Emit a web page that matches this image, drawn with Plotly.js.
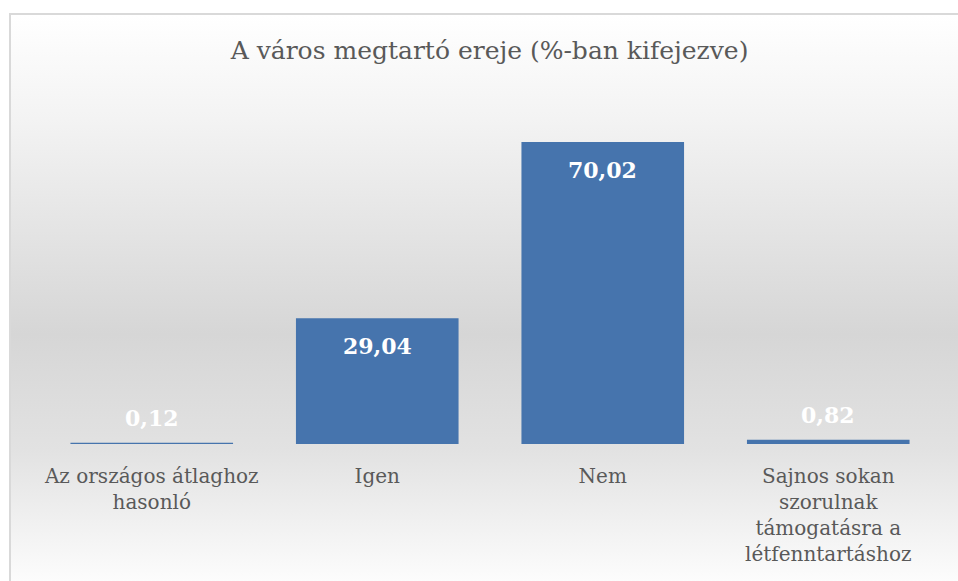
<!DOCTYPE html>
<html>
<head>
<meta charset="utf-8">
<script src="https://cdn.plot.ly/plotly-3.0.1.min.js"></script>
<style>
  html, body { margin: 0; padding: 0; background: #ffffff; }
  #frame {
    position: absolute; left: 9px; top: 13px; width: 960px; height: 580px;
    border-left: 2px solid #d9d9d9; border-top: 2px solid #d9d9d9;
    background: linear-gradient(to bottom, #ffffff 0%, #f3f3f3 18%, #d6d6d6 55%, #e2e2e2 75%, #ffffff 100%);
  }
  #chart { position: absolute; left: 0; top: 0; width: 958px; height: 581px; }
</style>
</head>
<body>
<div id="frame"></div>
<div id="chart"></div>
<script>
const categories = [
  "Az országos átlaghoz<br>hasonló",
  "Igen",
  "Nem",
  "Sajnos sokan<br>szorulnak<br>támogatásra a<br>létfenntartáshoz"
];
const values = [0.12, 29.04, 70.02, 0.82];
const valueLabels = ["0,12", "29,04", "70,02", "0,82"];
const chartTitle = "A város megtartó ereje (%-ban kifejezve)";

const serif = "DejaVu Serif, Liberation Serif, serif";

const trace = {
  type: "bar",
  x: categories,
  y: values,
  marker: { color: "#4674ad", line: { width: 1.6, color: "#4674ad" } },
  hoverinfo: "skip"
};

const annotations = values.map((v, i) => ({
  x: categories[i],
  y: v,
  xref: "x", yref: "y",
  text: "<b>" + valueLabels[i] + "</b>",
  showarrow: false,
  yanchor: "middle",
  yshift: v > 5 ? -27 : 25,
  font: { family: serif, size: 22, color: "#ffffff" }
}));

const layout = {
  width: 958, height: 581,
  paper_bgcolor: "rgba(0,0,0,0)",
  plot_bgcolor: "rgba(0,0,0,0)",
  margin: { l: 39, r: 17, t: 100, b: 137 },
  title: {
    text: chartTitle,
    font: { family: serif, size: 25, color: "#595959" },
    xref: "container", yref: "container",
    x: 0.511, y: 1 - 50 / 581, xanchor: "center", yanchor: "middle"
  },
  bargap: 0.286,
  showlegend: false,
  xaxis: {
    tickfont: { family: serif, size: 20, color: "#595959" },
    showline: false, showgrid: false, zeroline: false,
    ticks: "", ticklabelstandoff: 18, fixedrange: true
  },
  yaxis: {
    range: [0, 80], visible: false, showgrid: false, zeroline: false, fixedrange: true
  },
  annotations: annotations
};

Plotly.newPlot("chart", [trace], layout, { displayModeBar: false, staticPlot: true });
</script>
</body>
</html>
